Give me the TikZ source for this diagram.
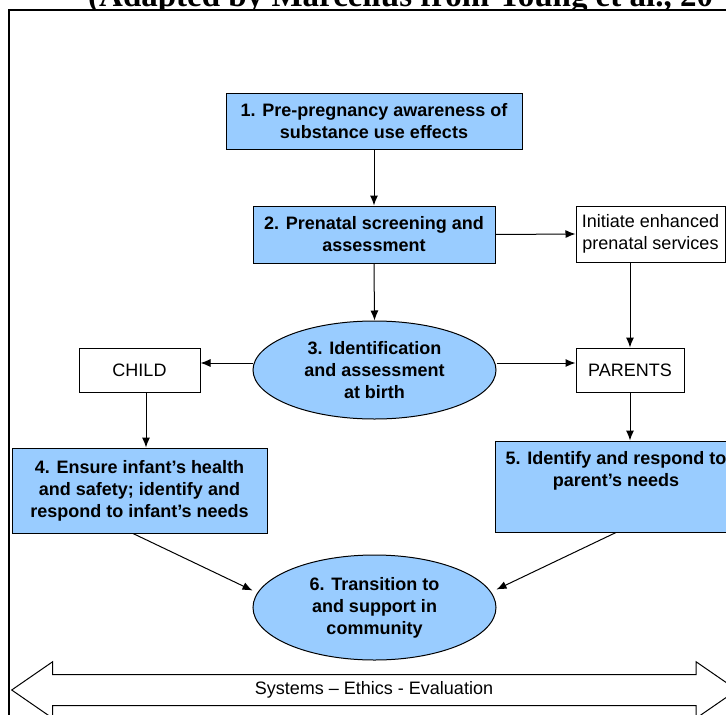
\documentclass[tikz,border=0pt]{standalone}
\usepackage{fontspec}
\setmainfont{Liberation Sans}
\newfontfamily\titlefont{Liberation Serif}
\usetikzlibrary{arrows.meta,shapes.geometric}
\definecolor{lightblue}{RGB}{153,204,255}
\begin{document}
\begin{tikzpicture}[x=1pt,y=-1pt,
  every node/.style={font=\fontsize{18}{22}\selectfont, align=center, inner sep=0pt},
  bluebox/.style={draw, line width=1pt, fill=lightblue, rectangle, font=\fontsize{18}{22}\selectfont\bfseries},
  whitebox/.style={draw, line width=1pt, fill=white, rectangle},
  blueell/.style={draw, line width=1pt, fill=lightblue, ellipse, font=\fontsize{18}{22}\selectfont\bfseries},
  arr/.style={-{Latex[length=10pt,width=8pt]}, line width=1pt}
]
\useasboundingbox (0,0) rectangle (726,715);
\clip (0,0) rectangle (726,715);

% title (cut off at the top)
\node[anchor=base west, font=\titlefont\fontsize{33}{33}\selectfont\bfseries] (title) at (88,6) {(Adapted by Marcellus from Young et al., 20};

% frame
\draw[line width=2pt, fill=white] (9,10) rectangle (760,760);

% nodes
\node[bluebox, minimum width=296, minimum height=56] (b1) at (374,121) {1. Pre-pregnancy awareness of\\substance use effects};
\node[bluebox, minimum width=242, minimum height=57] (b2) at (374,234.5) {2. Prenatal screening and\\assessment};
\node[whitebox, minimum width=149, minimum height=56] (init) at (650.5,234) {Initiate enhanced\\prenatal services};
\node[blueell, minimum width=243, minimum height=98] (e3) at (374.5,370) {3. Identification\\and assessment\\at birth};
\node[whitebox, minimum width=121, minimum height=44] (child) at (139.5,370) {CHILD};
\node[whitebox, minimum width=108, minimum height=44] (parents) at (630,370) {PARENTS};
\node[bluebox, minimum width=255, minimum height=85] (b4) at (139.5,490.5) {4. Ensure infant’s health\\and safety; identify and\\respond to infant’s needs};
\node[bluebox, minimum width=242, minimum height=91] (b5) at (616,486.5) {};
\node[font=\fontsize{18}{22}\selectfont\bfseries] (t5) at (616,470.5) {5. Identify and respond to\\parent’s needs};
\node[blueell, minimum width=243, minimum height=105] (e6) at (374.5,607.5) {6. Transition to\\and support in\\community};

% connectors
\draw[arr] (b1.south) -- (b2.north);
\draw[arr] (b2.east) -- (init.west);
\draw[arr] (parents.north |- init.south) -- (parents.north);
\draw[arr] (b2.south) -- (e3.north);
\draw[arr] ([yshift=7pt]e3.west) -- ([yshift=7pt]child.east);
\draw[arr] ([yshift=7pt]e3.east) -- ([yshift=7pt]parents.west);
\draw[arr] ([xshift=6.5pt]child.south) -- ([xshift=6.5pt]child.south |- b4.north);
\draw[arr] (parents.south) -- (parents.south |- b5.north);
\draw[arr] ([xshift=-6.5pt]b4.south) -- ([yshift=17pt]e6.west);
\draw[arr] (b5.south) -- ([yshift=18pt]e6.east);

% bottom double arrow
\draw[line width=1pt, fill=white] (11.7,690) -- (52.7,661.7) -- (52.7,674.5) -- (696,674.5) -- (696,661.7) -- (737,690) -- (696,718.3) -- (696,705.5) -- (52.7,705.5) -- (52.7,718.3) -- cycle;
\node (sys) at (374,690) {Systems – Ethics - Evaluation};
\end{tikzpicture}
\end{document}
